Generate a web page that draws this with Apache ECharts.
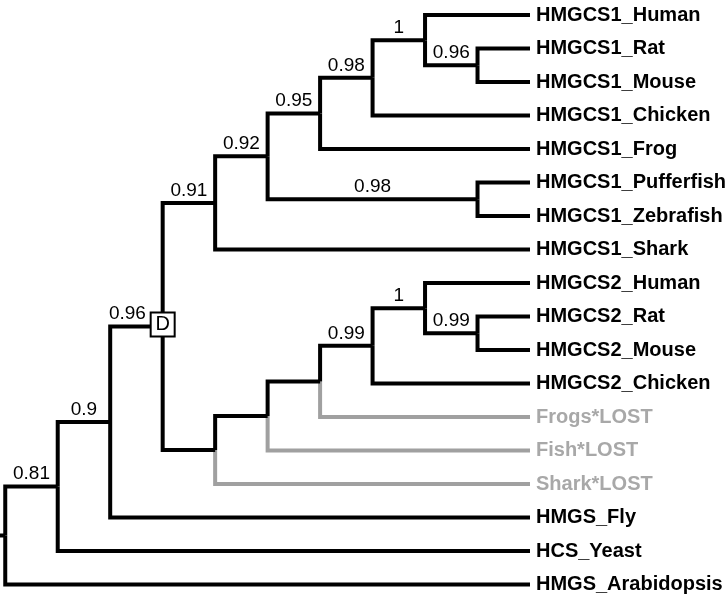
<!DOCTYPE html>
<html>
<head>
<meta charset="utf-8">
<script src="https://cdn.jsdelivr.net/npm/echarts@6/dist/echarts.min.js"></script>
<style>html,body{margin:0;padding:0;background:#fff;}#c{width:725px;height:599px;}</style>
</head>
<body>
<div id="c"></div>
<script>
// Leaves (top to bottom), their parent node ids, and lost flags
const leafNames = ['HMGCS1_Human','HMGCS1_Rat','HMGCS1_Mouse','HMGCS1_Chicken','HMGCS1_Frog','HMGCS1_Pufferfish','HMGCS1_Zebrafish','HMGCS1_Shark','HMGCS2_Human','HMGCS2_Rat','HMGCS2_Mouse','HMGCS2_Chicken','Frogs*LOST','Fish*LOST','Shark*LOST','HMGS_Fly','HCS_Yeast','HMGS_Arabidopsis'];
const leafParent = [8,9,9,7,6,10,10,4,15,16,16,14,13,12,11,2,1,0];
const leafLost = [0,0,0,0,0,0,0,0,0,0,0,0,1,1,1,0,0,0];
const leafDepth = 10;
// Internal nodes: id = index
const nodeDepth   = [0, 1, 2, 3, 4, 5, 6, 7, 8, 9, 9, 4, 5, 6, 7, 8, 9];
const nodeParent  = [-1,0, 1, 2, 3, 4, 5, 6, 7, 8, 5, 3, 11,12,13,14,15];
const nodeSupport = ['', '0.81','0.9','0.96','0.91','0.92','0.95','0.98','1','0.96','0.98','','','','0.99','1','0.99'];
const duplicationNode = 3; // 'D'
const rootStem = 0.1;

// compute node y as mean of children positions
const nNodes = nodeDepth.length;
const children = Array.from({length:nNodes}, () => []);
leafParent.forEach((p,i) => children[p].push({type:'leaf', i}));
nodeParent.forEach((p,i) => { if (p >= 0) children[p].push({type:'node', i}); });
const nodeY = new Array(nNodes);
function yOf(c){ return c.type === 'leaf' ? c.i : getNodeY(c.i); }
function getNodeY(n){
  if (nodeY[n] !== undefined) return nodeY[n];
  const ys = children[n].map(yOf);
  nodeY[n] = (Math.min(...ys) + Math.max(...ys)) / 2;
  return nodeY[n];
}
for (let n = 0; n < nNodes; n++) getNodeY(n);

// edges: [xParent, yParent, xChild, yChild, lost]
const edges = [];
leafParent.forEach((p,i) => edges.push([nodeDepth[p], nodeY[p], leafDepth, i, leafLost[i]]));
nodeParent.forEach((p,i) => { if (p >= 0) edges.push([nodeDepth[p], nodeY[p], nodeDepth[i], nodeY[i], 0]); });
edges.push([-rootStem, nodeY[0], 0, nodeY[0], 0]);

const supportData = [];
nodeParent.forEach((p,i) => {
  if (p >= 0 && nodeSupport[i] !== '') {
    supportData.push({value: [(nodeDepth[p] + nodeDepth[i]) / 2, nodeY[i]], name: nodeSupport[i],
      label: i === duplicationNode ? {offset: [-9, 0]} : undefined});
  }
});

const leafData = leafNames.map((nm,i) => ({value:[leafDepth, i], name:nm,
  label:{color: leafLost[i] ? '#a8a8a8' : '#000'}}));

const BLACK = '#000', GRAY = '#a0a0a0';
const FONT = '"Liberation Sans", Arial, sans-serif';

const chart = echarts.init(document.getElementById('c'), null, {renderer:'canvas'});
chart.setOption({
  animation: false,
  backgroundColor: '#fff',
  grid: {left: 0, width: 530, top: 15, height: 569.5, containLabel: false},
  xAxis: {type:'value', min: -rootStem, max: leafDepth, show: false},
  yAxis: {type:'value', min: 0, max: leafNames.length - 1, inverse: true, show: false},
  series: [
    {
      type: 'custom',
      data: edges,
      renderItem: function(params, api){
        const xp = api.value(0), yp = api.value(1), xc = api.value(2), yc = api.value(3), lost = api.value(4);
        const pts = [api.coord([xp, yp]), api.coord([xp, yc]), api.coord([xc, yc])];
        return {type:'polyline', shape:{points: pts},
          style:{stroke: lost ? GRAY : BLACK, lineWidth: 4, fill: null, lineJoin:'miter', lineCap:'butt'}};
      },
      z: 2
    },
    {
      type: 'scatter',
      data: leafData,
      symbolSize: 0,
      silent: true,
      itemStyle: {opacity: 1},
      label: {show: true, position: 'right', distance: 6, formatter: '{b}',
        fontFamily: FONT, fontWeight: 'bold', fontSize: 20},
      z: 3
    },
    {
      type: 'scatter',
      data: supportData,
      symbolSize: 0,
      silent: true,
      itemStyle: {opacity: 1},
      label: {show: true, position: 'top', distance: 3, formatter: '{b}',
        fontFamily: FONT, fontSize: 19, color: '#000'},
      z: 3
    },
    {
      type: 'scatter',
      data: [{value: [nodeDepth[duplicationNode], nodeY[duplicationNode]], name: 'D'}],
      symbol: 'rect',
      symbolSize: [24, 24],
      symbolOffset: [0, -2],
      silent: true,
      itemStyle: {color: '#fff', borderColor: BLACK, borderWidth: 2, opacity: 1},
      label: {show: true, position: 'inside', formatter: '{b}', fontFamily: FONT, fontSize: 20, color: '#000'},
      z: 5
    }
  ]
});
</script>
</body>
</html>
